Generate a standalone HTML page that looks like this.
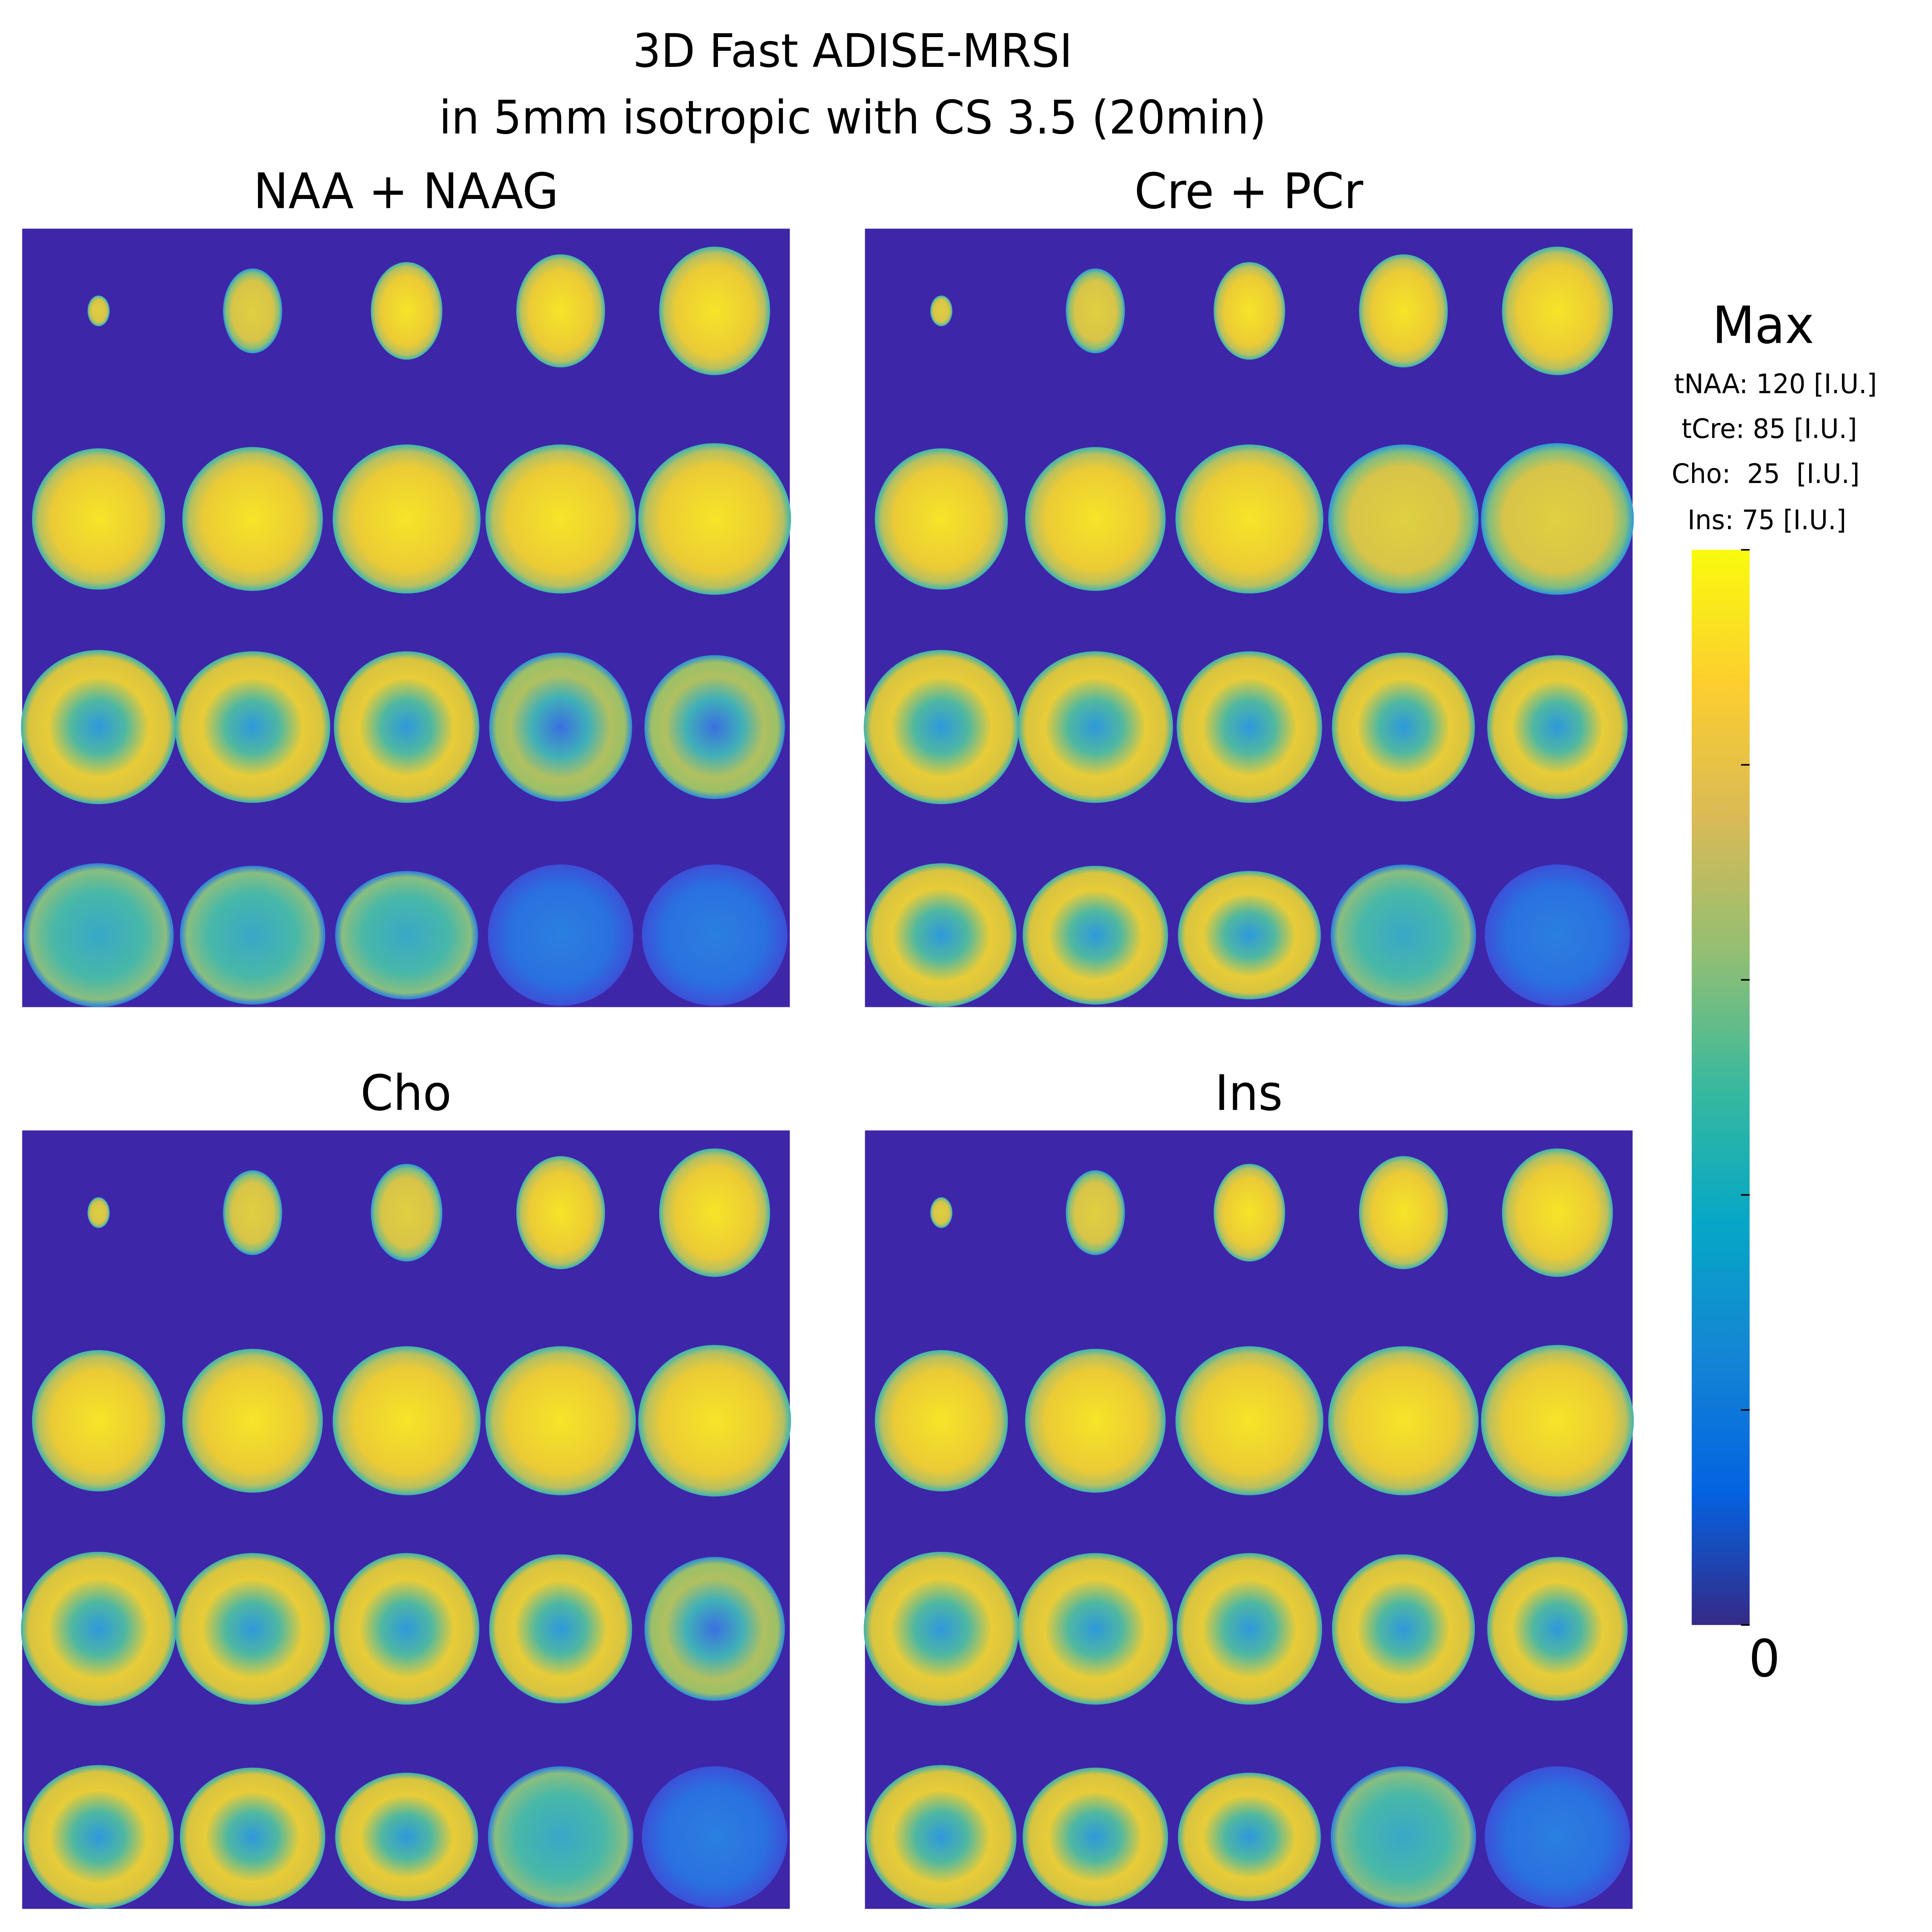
<!DOCTYPE html>
<html><head><meta charset="utf-8"><style>
html,body{margin:0;padding:0;background:#fff;width:100%;height:100%;overflow:hidden;}
svg{display:block;position:fixed;left:0;top:0;width:100vw;height:100vh;}
text{font-family:"DejaVu Sans","Liberation Sans",sans-serif;fill:#000;}
</style></head><body>
<svg id="fig" viewBox="0 0 1568 1504" preserveAspectRatio="none" xmlns="http://www.w3.org/2000/svg">
<defs>
<linearGradient id="parula" x1="0" y1="1" x2="0" y2="0">
<stop offset="0" stop-color="#352a87"/><stop offset="0.125" stop-color="#0363e1"/>
<stop offset="0.25" stop-color="#1485d4"/><stop offset="0.375" stop-color="#06a7c6"/>
<stop offset="0.5" stop-color="#38b99e"/><stop offset="0.625" stop-color="#92bf73"/>
<stop offset="0.75" stop-color="#d9ba56"/><stop offset="0.875" stop-color="#fcce2e"/>
<stop offset="1" stop-color="#f9fb0e"/></linearGradient>
<radialGradient id="g-full"><stop offset="0" stop-color="#f6e528"/><stop offset="0.7" stop-color="#eccb35"/><stop offset="0.9" stop-color="#b8c060"/><stop offset="1" stop-color="#3cb5b0"/></radialGradient>
<radialGradient id="g-mid"><stop offset="0" stop-color="#e0d040"/><stop offset="0.7" stop-color="#d8c448"/><stop offset="0.9" stop-color="#80be80"/><stop offset="1" stop-color="#2a9ad8"/></radialGradient>
<radialGradient id="g-ring"><stop offset="0" stop-color="#2e98dc"/><stop offset="0.35" stop-color="#50b8a0"/><stop offset="0.65" stop-color="#e8cc38"/><stop offset="0.9" stop-color="#d8c440"/><stop offset="1" stop-color="#3ab2b0"/></radialGradient>
<radialGradient id="g-ringlow"><stop offset="0" stop-color="#3a70e0"/><stop offset="0.4" stop-color="#40b0b8"/><stop offset="0.7" stop-color="#b0c060"/><stop offset="0.9" stop-color="#9cc068"/><stop offset="1" stop-color="#2a90d8"/></radialGradient>
<radialGradient id="g-teal"><stop offset="0" stop-color="#38a8c8"/><stop offset="0.6" stop-color="#48b8a8"/><stop offset="0.9" stop-color="#88be80"/><stop offset="1" stop-color="#2a7ee0"/></radialGradient>
<radialGradient id="g-blue"><stop offset="0" stop-color="#2a80e0"/><stop offset="0.7" stop-color="#2a70e0"/><stop offset="1" stop-color="#3c50d8"/></radialGradient>
</defs>
<text x="692" y="52" font-size="36" text-anchor="middle">3D Fast ADISE-MRSI</text>
<text x="692" y="104" font-size="36" text-anchor="middle">in 5mm isotropic with CS 3.5 (20min)</text>
<g id="panels"></g>
<rect x="1373" y="428" width="47" height="837" fill="url(#parula)"/>
<g id="cbticks"></g>
<text x="1431" y="267" font-size="40" text-anchor="middle">Max</text>
<text x="1441" y="306" font-size="21" text-anchor="middle">tNAA: 120 [I.U.]</text>
<text x="1436" y="341" font-size="21" text-anchor="middle">tCre: 85 [I.U.]</text>
<text x="1433" y="376" font-size="21" text-anchor="middle" xml:space="preserve">Cho:  25  [I.U.]</text>
<text x="1434" y="412" font-size="21" text-anchor="middle">Ins: 75 [I.U.]</text>
<text x="1432" y="1305" font-size="40" text-anchor="middle">0</text>
</svg>
<script>
const panelTitles = ["NAA + NAAG", "Cre + PCr", "Cho", "Ins"];
const rowWidths = [[18, 48, 58, 72, 90], [108, 114, 120, 122, 124], [126, 126, 118, 116, 114], [122, 118, 116, 118, 118]];
const rowHeights = [[24, 66, 76, 88, 100], [110, 112, 116, 116, 118], [120, 118, 118, 116, 112], [112, 108, 100, 110, 110]];
const styles = [
  [["g-mid","g-mid","g-full","g-full","g-full"],["g-full","g-full","g-full","g-full","g-full"],["g-ring","g-ring","g-ring","g-ringlow","g-ringlow"],["g-teal","g-teal","g-teal","g-blue","g-blue"]],
  [["g-mid","g-mid","g-full","g-full","g-full"],["g-full","g-full","g-full","g-mid","g-mid"],["g-ring","g-ring","g-ring","g-ring","g-ring"],["g-ring","g-ring","g-ring","g-teal","g-blue"]],
  [["g-mid","g-mid","g-mid","g-full","g-full"],["g-full","g-full","g-full","g-full","g-full"],["g-ring","g-ring","g-ring","g-ring","g-ringlow"],["g-ring","g-ring","g-ring","g-teal","g-blue"]],
  [["g-mid","g-mid","g-full","g-full","g-full"],["g-full","g-full","g-full","g-full","g-full"],["g-ring","g-ring","g-ring","g-ring","g-ring"],["g-ring","g-ring","g-ring","g-teal","g-blue"]]
];
const cbTicks = [0, 0.2, 0.4, 0.6, 0.8, 1];
const NS = "http://www.w3.org/2000/svg";
const panelX = [18, 702], panelY = [178, 880], PW = 623, PH = 606;
const colX = c => 62 + c * 125;
const rowY = r => 64 + r * 162;
const g = document.getElementById("panels");
panelTitles.forEach((t, p) => {
  const px = panelX[p % 2], py = panelY[Math.floor(p / 2)];
  const tt = document.createElementNS(NS, "text");
  
  
  tt.setAttribute("x", px + PW / 2); tt.setAttribute("y", py - 16);
  tt.setAttribute("font-size", "38"); tt.setAttribute("text-anchor", "middle");
  tt.textContent = t; g.appendChild(tt);
  const bg = document.createElementNS(NS, "rect");
  
  
  bg.setAttribute("x", px); bg.setAttribute("y", py); bg.setAttribute("width", PW); bg.setAttribute("height", PH);
  bg.setAttribute("fill", "#3e26a8"); g.appendChild(bg);
  for (let r = 0; r < 4; r++) for (let c = 0; c < 5; c++) {
    const e = document.createElementNS(NS, "ellipse");
    
    
    e.setAttribute("cx", px + colX(c)); e.setAttribute("cy", py + rowY(r));
    e.setAttribute("rx", rowWidths[r][c] / 2); e.setAttribute("ry", rowHeights[r][c] / 2);
    e.setAttribute("fill", "url(#" + styles[p][r][c] + ")");
    g.appendChild(e);
  }
});
const tk = document.getElementById("cbticks");
cbTicks.forEach(v => {
  const l = document.createElementNS(NS, "line");
  
  
  const y = 1265 - v * 837;
  l.setAttribute("x1", 1413); l.setAttribute("x2", 1420); l.setAttribute("y1", y); l.setAttribute("y2", y);
  l.setAttribute("stroke", "#000"); l.setAttribute("stroke-width", "1.2");
  tk.appendChild(l);
});
</script>
</body></html>
